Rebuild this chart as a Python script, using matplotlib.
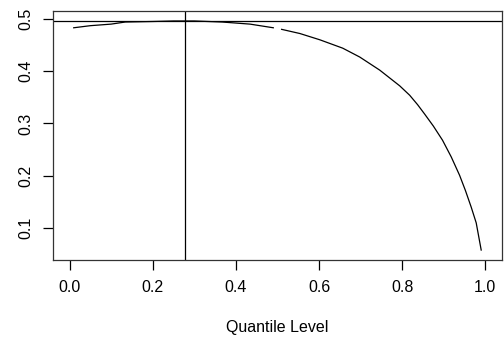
import numpy as np
import matplotlib
matplotlib.use("Agg")
import matplotlib.pyplot as plt

# quantile levels and curve values (gap at 0.5)
levels = [0.01, 0.05, 0.10, 0.134, 0.20, 0.25, 0.30, 0.367, 0.434, 0.49, np.nan,
          0.51, 0.554, 0.602, 0.657, 0.698, 0.746, 0.794, 0.818, 0.837, 0.854,
          0.875, 0.897, 0.918, 0.938, 0.952, 0.966, 0.978, 0.99]
values = [0.483, 0.487, 0.490, 0.494, 0.495, 0.496, 0.496, 0.494, 0.490, 0.483, np.nan,
          0.480, 0.472, 0.460, 0.444, 0.427, 0.402, 0.372, 0.354, 0.336, 0.318,
          0.295, 0.268, 0.236, 0.201, 0.172, 0.140, 0.110, 0.058]
hline_y = 0.496
vline_x = 0.278
xticks = [0.0, 0.2, 0.4, 0.6, 0.8, 1.0]
yticks = [0.1, 0.2, 0.3, 0.4, 0.5]

plt.rcParams['font.family'] = ['Liberation Sans', 'DejaVu Sans']

fig = plt.figure(figsize=(5.04, 3.51), dpi=100)
ax = fig.add_axes([0.105, 0.259, 0.891, 0.710])

ax.plot(levels, values, color='black', lw=0.9)
ax.axhline(hline_y, color='black', lw=0.9)
ax.axvline(vline_x, color='black', lw=0.9)

ax.set_xlim(-0.04, 1.04)
ax.set_ylim(0.0388, 0.5153)
ax.set_xticks(xticks)
ax.set_xticklabels([f'{t:.1f}' for t in xticks])
ax.set_yticks(yticks)
ax.set_yticklabels([f'{t:.1f}' for t in yticks], rotation=90, va='center')
ax.tick_params(direction='out', length=7, width=0.9, labelsize=11.5, pad=7)
ax.set_xlabel('Quantile Level', fontsize=11.5, labelpad=18)
for s in ax.spines.values():
    s.set_linewidth(0.9)
    s.set_color('#333333')

fig.savefig('out.png', dpi=100)
